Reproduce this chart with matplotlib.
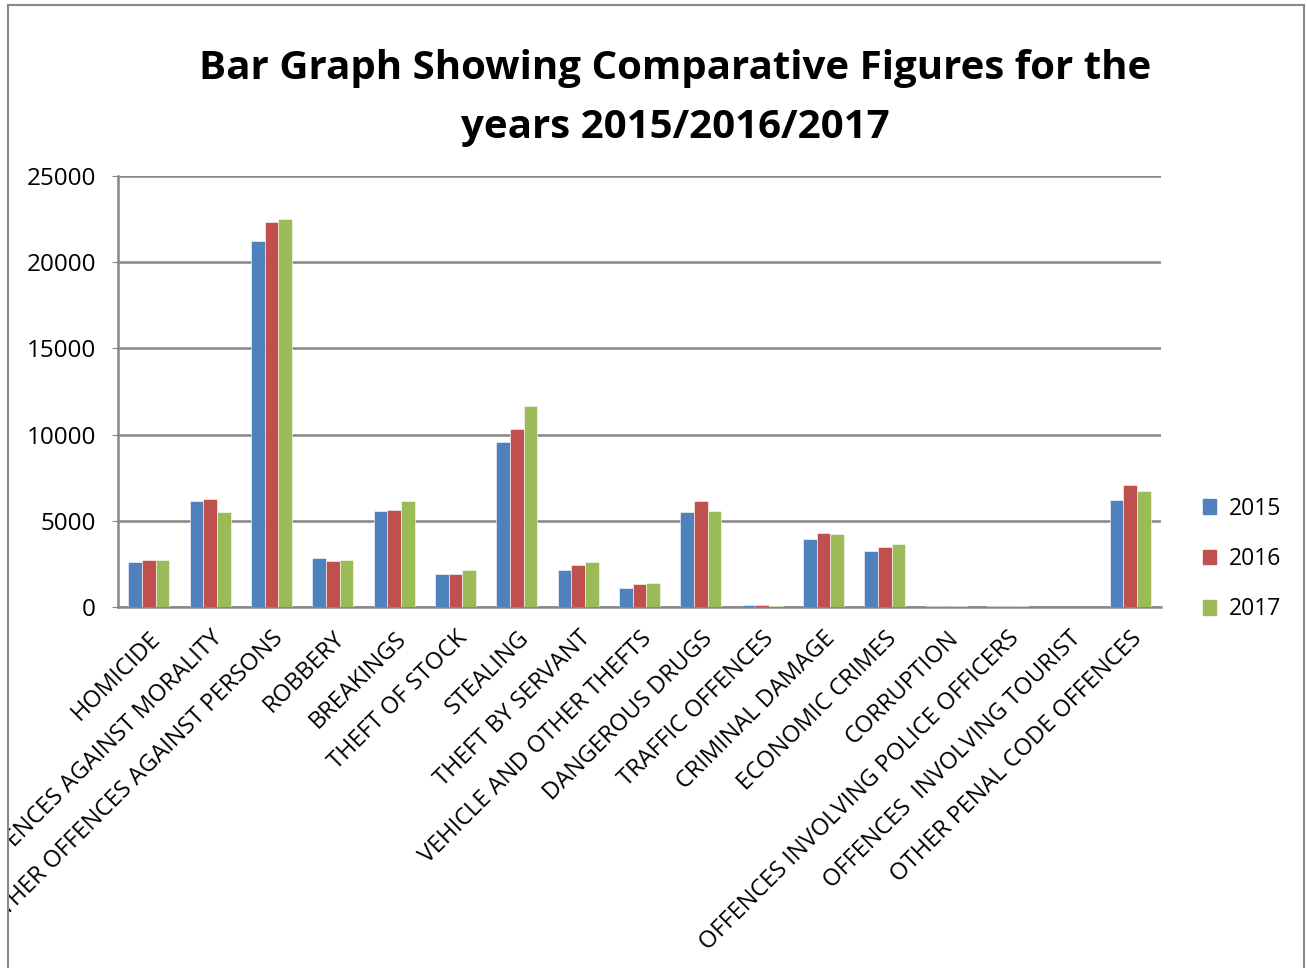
import numpy as np
import matplotlib
matplotlib.use('Agg')
from matplotlib import pyplot as plt
from matplotlib.patches import Rectangle, Patch

categories = ['HOMICIDE', 'OFFENCES AGAINST MORALITY', 'OTHER OFFENCES AGAINST PERSONS',
              'ROBBERY', 'BREAKINGS', 'THEFT OF STOCK', 'STEALING', 'THEFT BY SERVANT',
              'VEHICLE AND OTHER THEFTS', 'DANGEROUS DRUGS', 'TRAFFIC OFFENCES',
              'CRIMINAL DAMAGE', 'ECONOMIC CRIMES', 'CORRUPTION',
              'OFFENCES INVOLVING POLICE OFFICERS', 'OFFENCES  INVOLVING TOURIST',
              'OTHER PENAL CODE OFFENCES']
y2015 = [2630, 6170, 21210, 2860, 5570, 1930, 9560, 2160, 1100, 5525, 90, 3950, 3220, 40, 40, 5, 6200]
y2016 = [2745, 6245, 22310, 2670, 5630, 1910, 10350, 2435, 1350, 6160, 100, 4300, 3470, 60, 30, 5, 7060]
y2017 = [2745, 5510, 22520, 2725, 6130, 2120, 11670, 2610, 1390, 5565, 30, 4230, 3660, 40, 60, 5, 6750]
years = ['2015', '2016', '2017']
colors = ['#4F81BD', '#C0504D', '#9BBB59']

W, H = 1307, 968
fig = plt.figure(figsize=(W / 100, H / 100), dpi=100)
ax = fig.add_axes([118 / W, 1 - 607 / H, (1161 - 118) / W, (607 - 176) / H])

x = np.arange(len(categories))
bw = 0.223
for i, vals in enumerate([y2015, y2016, y2017]):
    ax.bar(x + (i - 1) * bw, vals, bw, color=colors[i], edgecolor='white', linewidth=0.4, zorder=3)

ax.set_xlim(-0.5, len(categories) - 0.5)
ax.set_ylim(0, 25000)
ax.set_yticks(range(0, 25001, 5000))
ax.grid(axis='y', color='#878787', linewidth=1.8, zorder=0)
for s in ['top', 'right']:
    ax.spines[s].set_visible(False)
for s in ['left', 'bottom']:
    ax.spines[s].set_color('#878787')
    ax.spines[s].set_linewidth(1.8)
ax.tick_params(axis='y', length=4, color='#878787', labelsize=17.5, pad=12)
ax.tick_params(axis='x', length=0, pad=14)
ax.set_xticks(x)
ax.set_xticklabels(categories, rotation=45, ha='right', rotation_mode='anchor', fontsize=17)
for lab in ax.get_yticklabels():
    lab.set_family('Open Sans')
for lab in ax.get_xticklabels():
    lab.set_family('Open Sans')

fig.text(675 / W, 1 - 98 / H, 'Bar Graph Showing Comparative Figures for the\nyears 2015/2016/2017',
         ha='center', va='center', fontsize=29, fontweight='bold', family='Open Sans',
         linespacing=1.68)

handles = [Patch(color=c) for c in colors]
fig.legend(handles, years, loc='center left', bbox_to_anchor=(1182 / W, 1 - 559 / H),
           frameon=False, prop={'family': 'Open Sans', 'size': 16.5},
           handlelength=0.6, handleheight=0.6, handletextpad=0.55, labelspacing=1.15)

# white margin and outer frame like the pasted chart
fig.add_artist(Rectangle((0, 0), 8 / W, 1, transform=fig.transFigure, facecolor='white',
                         edgecolor='none', zorder=20))
fig.add_artist(Rectangle((8 / W, -0.01), (1304 - 8) / W, 1 - 5 / H + 0.01, transform=fig.transFigure,
                         facecolor='none', edgecolor='#878787', linewidth=1.5, zorder=21))

fig.savefig('out.png', dpi=100)
